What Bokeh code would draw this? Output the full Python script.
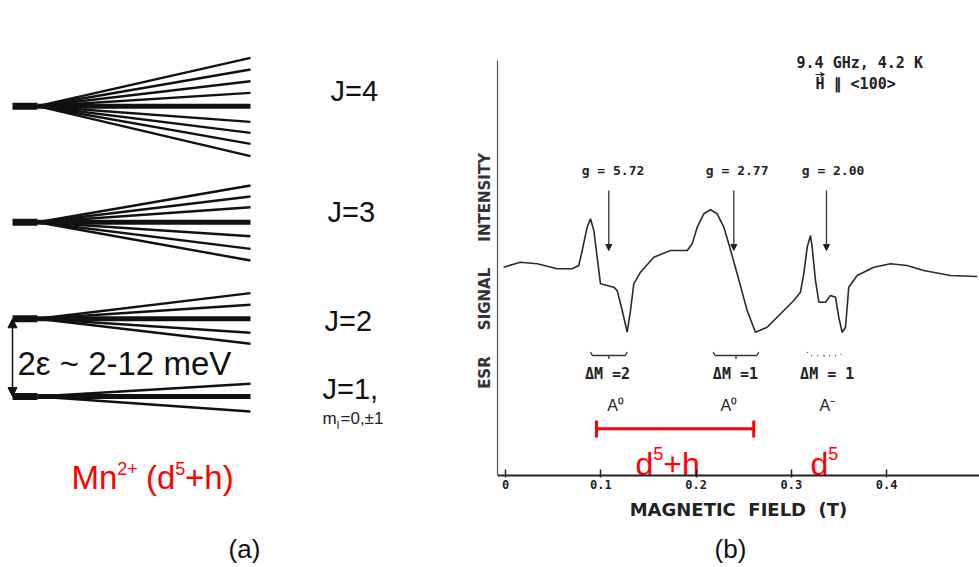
from bokeh.plotting import figure
from bokeh.layouts import row
from bokeh.models import Range1d, Arrow, NormalHead, VeeHead, FixedTicker
from bokeh.core.properties import value
from bokeh.embed import file_html
from bokeh.resources import INLINE

# ---------------- Panel (a): Mn2+ (d5+h) level scheme ----------------
J_labels = ["J=4", "J=3", "J=2", "J=1,"]
J_energy = [31.43, 19.83, 10.17, 2.40]          # arbitrary energy units
offsets_J4 = [4.83, 3.67, 2.50, 1.33, 0.0, -1.57, -2.67, -3.77, -5.00]
offsets_J3 = [3.67, 2.57, 1.50, 0.0, -1.40, -2.67, -3.83]
offsets_J2 = [2.57, 1.40, 0.0, -1.40, -2.50]
offsets_J1 = [1.27, 0.0, -1.50]
level_offsets = [offsets_J4, offsets_J3, offsets_J2, offsets_J1]

# ---------------- Panel (b): ESR spectrum ----------------
field_T = [-0.002, 0.0157, 0.0333, 0.0542, 0.0700, 0.0769, 0.0805, 0.0857, 0.0892, 0.0927,
           0.0962, 0.0997, 0.1067, 0.1136, 0.1172, 0.1225, 0.1277, 0.1312, 0.1346, 0.1417,
           0.1556, 0.1731, 0.1907, 0.1959, 0.2012, 0.2081, 0.2151, 0.2221, 0.2291, 0.2343,
           0.2431, 0.2536, 0.2623, 0.2746, 0.2886, 0.3025, 0.3095, 0.3130, 0.3166, 0.3200,
           0.3218, 0.3253, 0.3288, 0.3358, 0.3410, 0.3463, 0.3497, 0.3533, 0.3568, 0.3602,
           0.3690, 0.3865, 0.4040, 0.4215, 0.4389, 0.4669, 0.4950]
esr_signal = [0.33, 0.83, 0.67, 0.17, 0.17, 0.50, 2.00, 4.33, 5.17, 4.00,
              1.33, -1.33, -1.50, -1.67, -2.00, -4.00, -6.17, -4.00, -1.33, -0.17,
              1.33, 2.00, 2.00, 2.67, 4.33, 5.67, 6.07, 5.67, 4.33, 2.67,
              -0.33, -4.00, -6.17, -5.67, -4.33, -3.00, -2.17, -0.33, 2.33, 3.50,
              2.33, -1.00, -3.17, -3.17, -2.50, -2.67, -4.67, -6.17, -5.67, -1.67,
              -0.50, 0.33, 0.67, 0.50, 0.00, -0.50, -0.60]
g_labels = ["g = 5.72", "g = 2.77", "g = 2.00"]
g_label_field = [0.1128, 0.2431, 0.3437]
g_arrow_field = [0.1084, 0.2396, 0.3368]
dm_labels = ["ΔM =2", "ΔM =1", "ΔM = 1"]
dm_field = [0.1070, 0.2413, 0.3376]
species_labels = ["A⁰", "A⁰", "A⁻"]
species_field = [0.1154, 0.2343, 0.3376]
bracket_lo = [0.0892, 0.2179, 0.3166]
bracket_hi = [0.1277, 0.2658, 0.3533]
d5h_range = [0.0955, 0.2605]
x_ticks = [0, 0.1, 0.2, 0.3, 0.4]
signal_axis_bottom = -20.5   # signal level where the field axis is drawn
signal_axis_top = 21.0

BLACK = "#111111"
RED = "#ff0000"
SANS = value("Liberation Sans")
MONO = value("DejaVu Sans Mono")
NB = "\u00a0"

# ======================= figure (a) =======================
pa = figure(width=470, height=567, output_backend="svg", toolbar_location=None,
            x_range=Range1d(0, 470), y_range=Range1d(-14.7, 42.0),
            x_axis_type=None, y_axis_type=None,
            min_border_left=0, min_border_right=0, min_border_top=0, min_border_bottom=0)
pa.outline_line_color = None
pa.grid.visible = False

STEM_X0, FAN_X0, FAN_X1 = 12, 37, 250
for E, offs in zip(J_energy, level_offsets):
    pa.segment(x0=[STEM_X0], y0=[E], x1=[FAN_X0], y1=[E], line_width=7, line_color=BLACK)
    side = [o for o in offs if o != 0.0]
    pa.segment(x0=[FAN_X0] * len(side), y0=[E] * len(side),
               x1=[FAN_X1] * len(side), y1=[E + o for o in side],
               line_width=2.4, line_color=BLACK)
    pa.segment(x0=[FAN_X0], y0=[E], x1=[FAN_X1], y1=[E], line_width=5, line_color=BLACK)

label_x = [330, 327, 324, 322]
label_y = [33.0, 20.83, 10.0, 3.17]
pa.text(x=label_x, y=label_y, text=J_labels, text_font=SANS, text_font_size="29px",
        text_baseline="middle", text_align="left", text_color=BLACK)
pa.text(x=[322], y=[0.2], text=["m"], text_font=SANS, text_font_size="17px",
        text_baseline="middle", text_align="left", text_color="#222222")
pa.text(x=[336], y=[-0.45], text=["I"], text_font=SANS, text_font_size="11px",
        text_baseline="middle", text_align="left", text_color="#222222")
pa.text(x=[340], y=[0.2], text=["=0,±1"], text_font=SANS, text_font_size="17px",
        text_baseline="middle", text_align="left", text_color="#222222")

pa.add_layout(Arrow(start=NormalHead(size=9, fill_color=BLACK, line_color=BLACK),
                    end=NormalHead(size=9, fill_color=BLACK, line_color=BLACK),
                    x_start=STEM_X0, y_start=J_energy[2], x_end=STEM_X0, y_end=J_energy[3],
                    line_width=1.5, line_color=BLACK))
pa.text(x=[17], y=[5.7], text=["2ε ~ 2-12 meV"], text_font=SANS, text_font_size="33px",
        text_baseline="middle", text_align="left", text_color=BLACK)

# "Mn2+ (d5+h)" with real superscripts
pa.text(x=[71.0, 145.4, 184.6], y=[-5.7, -5.7, -5.7], text=["Mn", "(d", "+h)"], text_font=SANS,
        text_font_size="33px", text_baseline="alphabetic", text_align="left", text_color=RED)
pa.text(x=[116.8, 174.7], y=[-4.75, -4.75], text=["2+", "5"], text_font=SANS,
        text_font_size="18px", text_baseline="alphabetic", text_align="left", text_color=RED)
pa.text(x=[244], y=[-12.8], text=["(a)"], text_font=SANS, text_font_size="26px",
        text_baseline="middle", text_align="center", text_color=BLACK)

# ======================= figure (b) =======================
pb = figure(width=509, height=567, output_backend="svg", toolbar_location=None,
            x_range=Range1d(-0.00839, 0.4974), y_range=Range1d(-29.7, 27.0),
            min_border_left=27, min_border_right=0, min_border_top=0, min_border_bottom=0)
pb.outline_line_color = None
pb.grid.visible = False

xa = pb.xaxis[0]
xa.fixed_location = signal_axis_bottom
xa.ticker = FixedTicker(ticks=x_ticks)
xa.major_label_overrides = {0: "0"}
xa.major_tick_in = 6
xa.major_tick_out = 2
xa.minor_tick_in = 0
xa.minor_tick_out = 0
xa.axis_line_width = 2
xa.axis_line_color = "#222222"
xa.major_tick_line_color = "#222222"
xa.major_tick_line_width = 1.5
xa.major_label_text_font = "DejaVu Sans Mono"
xa.major_label_text_font_style = "bold"
xa.major_label_text_font_size = "12px"
xa.major_label_text_color = "#222222"
xa.major_label_standoff = 2
xa.axis_label = "MAGNETIC" + NB * 2 + "FIELD" + NB * 2 + "(T)"
xa.axis_label_text_font = "DejaVu Sans"
xa.axis_label_text_font_style = "bold"
xa.axis_label_text_font_size = "18px"
xa.axis_label_text_color = "#222222"
xa.axis_label_standoff = 7

ya = pb.yaxis[0]
ya.ticker = FixedTicker(ticks=[])
ya.bounds = (signal_axis_bottom, signal_axis_top)
ya.major_tick_in = 0
ya.major_tick_out = 0
ya.minor_tick_in = 0
ya.minor_tick_out = 0
ya.axis_line_width = 1.2
ya.axis_line_color = "#555555"
ya.axis_label = NB * 5 + "ESR" + NB * 5 + "SIGNAL" + NB * 5 + "INTENSITY"
ya.axis_label_text_font = "DejaVu Sans"
ya.axis_label_text_font_style = "bold"
ya.axis_label_text_font_size = "15px"
ya.axis_label_text_color = "#333333"
ya.axis_label_standoff = 4

pb.line(field_T, esr_signal, line_width=1.6, line_color="#2a2a2a")

pb.text(x=[0.3054], y=[20.8], text=["9.4 GHz, 4.2 K"], text_font=MONO, text_font_style="bold",
        text_font_size="15px", text_baseline="middle", text_align="left", text_color="#222222")
pb.text(x=[0.3253], y=[18.7], text=["H ∥ <100>"], text_font=MONO, text_font_style="bold",
        text_font_size="15px", text_baseline="middle", text_align="left", text_color="#222222")
pb.add_layout(Arrow(end=VeeHead(size=4, fill_color="#222222", line_color="#222222"),
                    x_start=0.3253, y_start=19.6, x_end=0.3347, y_end=19.6,
                    line_width=1.2, line_color="#222222"))

pb.text(x=g_label_field, y=[10.0] * 3, text=g_labels, text_font=MONO, text_font_style="bold",
        text_font_size="13px", text_baseline="middle", text_align="center", text_color="#222222")
for gx in g_arrow_field:
    pb.add_layout(Arrow(end=NormalHead(size=6, fill_color="#222222", line_color="#222222"),
                        x_start=gx, y_start=8.0, x_end=gx, y_end=2.0,
                        line_width=1.3, line_color="#333333"))

# brackets under resonances
for i, (lo, hi) in enumerate(zip(bracket_lo, bracket_hi)):
    mid = (lo + hi) / 2
    xs = [[lo, lo + 0.002, hi - 0.002, hi], [mid, mid]]
    ys = [[-8.15, -8.5, -8.5, -8.15], [-8.5, -8.85]]
    if i < 2:
        pb.multi_line(xs, ys, line_width=1.3, line_color="#333333")
    else:
        pb.multi_line(xs, ys, line_width=1.3, line_color="#555555", line_dash="1 5")

pb.text(x=dm_field, y=[-10.3] * 3, text=dm_labels, text_font=MONO, text_font_style="bold",
        text_font_size="15px", text_baseline="middle", text_align="center", text_color="#222222")
pb.text(x=species_field, y=[-13.5] * 3, text=species_labels, text_font=SANS,
        text_font_size="16px", text_baseline="middle", text_align="center", text_color="#222222")

# red range bar d5+h
pb.segment(x0=[d5h_range[0]], y0=[-15.83], x1=[d5h_range[1]], y1=[-15.83], line_width=3, line_color=RED)
pb.segment(x0=d5h_range, y0=[-15.0, -15.0], x1=d5h_range, y1=[-16.7, -16.7], line_width=3, line_color=RED)
pb.text(x=[0.1364, 0.3200], y=[-19.33, -19.33], text=["d", "d"], text_font=SANS,
        text_font_size="32px", text_baseline="alphabetic", text_align="left", text_color=RED)
pb.text(x=[0.1551, 0.3387], y=[-18.3, -18.3], text=["5", "5"], text_font=SANS,
        text_font_size="18px", text_baseline="alphabetic", text_align="left", text_color=RED)
pb.text(x=[0.1656], y=[-19.33], text=["+h"], text_font=SANS,
        text_font_size="32px", text_baseline="alphabetic", text_align="left", text_color=RED)

pb.text(x=[0.2361], y=[-27.8], text=["(b)"], text_font=SANS, text_font_size="26px",
        text_baseline="middle", text_align="center", text_color=BLACK)

layout = row(pa, pb)
open("out.html", "w").write(file_html(layout, INLINE))
